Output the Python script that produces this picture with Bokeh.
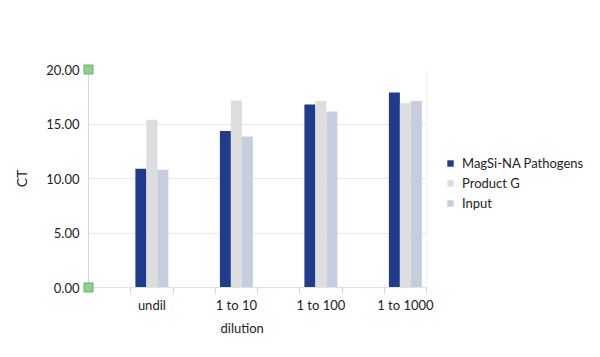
import numpy as np
from bokeh.plotting import figure
from bokeh.models import (Range1d, FixedTicker, NumeralTickFormatter, Span, Title,
                          ColumnDataSource, Legend)
from bokeh.transform import dodge
from bokeh.embed import file_html
from bokeh.resources import INLINE

categories = ["undil", "1 to 10", "1 to 100", "1 to 1000"]
magsi = [10.9, 14.35, 16.8, 17.9]
product_g = [15.4, 17.15, 17.1, 16.9]
input_vals = [10.8, 13.85, 16.15, 17.1]
y_ticks = [0, 5, 10, 15, 20]
series_names = ["MagSi-NA Pathogens", "Product G", "Input"]
colors = ["#1f3b8c", "#dddddd", "#c6cddc"]

FONT = "Lato"
TXT = "#222222"

pos = [i + 0.5 for i in range(len(categories))]
src = ColumnDataSource(dict(x=pos, magsi=magsi, pg=product_g, inp=input_vals))

p = figure(frame_width=338, frame_height=218, output_backend="svg", toolbar_location=None,
           x_range=Range1d(-0.25, 3.75), y_range=Range1d(0, 20),
           min_border_left=88, min_border_right=0, min_border_top=69,
           min_border_bottom=70)
p.outline_line_color = None
p.background_fill_color = "white"
p.border_fill_color = "white"

bw = 0.13
r1 = p.vbar(x=dodge("x", -bw, range=p.x_range), top="magsi", width=bw, source=src,
            fill_color=colors[0], line_color=None)
r2 = p.vbar(x=dodge("x", 0, range=p.x_range), top="pg", width=bw, source=src,
            fill_color=colors[1], line_color=None)
r3 = p.vbar(x=dodge("x", bw, range=p.x_range), top="inp", width=bw, source=src,
            fill_color=colors[2], line_color=None)

# x axis
xa = p.xaxis[0]
xa.ticker = FixedTicker(ticks=pos, minor_ticks=sorted([q - 0.25 for q in pos] + [q + 0.25 for q in pos]))
xa.major_label_overrides = {q: c for q, c in zip(pos, categories)}
xa.major_tick_out = 0
xa.major_tick_in = 0
xa.minor_tick_out = 6
xa.minor_tick_in = 0
xa.minor_tick_line_color = "#d4d4d4"
xa.axis_line_color = "#e2e2e2"
xa.major_label_standoff = 3
xa.major_label_text_font = FONT
xa.major_label_text_font_size = "13px"
xa.major_label_text_color = TXT

# y axis
ya = p.yaxis[0]
ya.ticker = FixedTicker(ticks=y_ticks)
ya.formatter = NumeralTickFormatter(format="0.00")
ya.major_tick_out = 0
ya.major_tick_in = 0
ya.minor_tick_out = 0
ya.minor_tick_in = 0
ya.axis_line_color = "#d9d9d9"
ya.major_label_standoff = 9
ya.major_label_text_font = FONT
ya.major_label_text_font_size = "13px"
ya.major_label_text_color = TXT
ya.axis_label = "CT"
ya.axis_label_text_font = FONT
ya.axis_label_text_font_size = "14px"
ya.axis_label_text_font_style = "normal"
ya.axis_label_text_color = TXT
ya.axis_label_standoff = 13

p.xgrid.grid_line_color = None
p.ygrid.grid_line_color = "#e8e8e8"
p.ygrid.ticker = FixedTicker(ticks=y_ticks)

p.add_layout(Span(location=3.75, dimension="height", line_color="#e8e8e8", line_width=1))

# green end markers on the y axis
mk = p.scatter(x=[-0.25, -0.25], y=[y_ticks[0], y_ticks[-1]], marker="square", size=9,
               fill_color="#8fcf8f", line_color="#66b066", line_width=1)
mk.level = "overlay"

# x axis title
p.add_layout(Title(text="dilution", align="left", offset=132, text_font=FONT,
                   text_font_size="13px", text_font_style="normal", text_color=TXT,
                   standoff=5), "below")

legend = Legend(items=[(series_names[0], [r1]), (series_names[1], [r2]), (series_names[2], [r3])],
                location=(20, 76), orientation="vertical")
legend.margin = 0
legend.padding = 10
legend.glyph_width = 8
legend.glyph_height = 8
legend.label_height = 17
legend.spacing = 3
legend.label_standoff = 8
legend.label_text_font = FONT
legend.label_text_font_size = "13px"
legend.label_text_color = TXT
legend.background_fill_alpha = 0
legend.border_line_color = None
p.add_layout(legend, "right")

open("out.html", "w").write(file_html(p, INLINE))
